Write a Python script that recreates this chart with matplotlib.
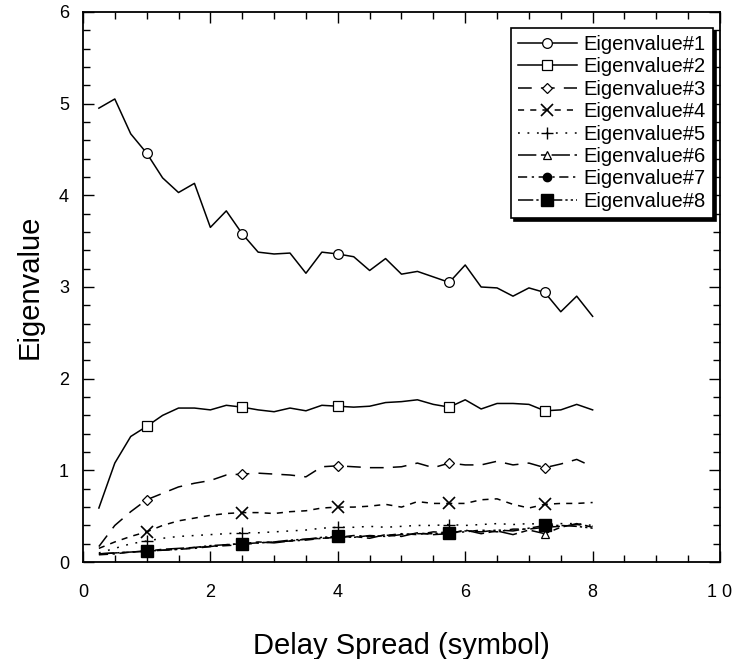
import numpy as np
import matplotlib
matplotlib.use('Agg')
import matplotlib.pyplot as plt
from matplotlib.ticker import MultipleLocator

plt.rcParams['font.family'] = ['Liberation Sans', 'DejaVu Sans']

# delay spread, 0.25 ... 8.0
x = np.arange(1, 33) * 0.25

ev1 = [4.95, 5.05, 4.67, 4.46, 4.19, 4.03, 4.13, 3.65, 3.83, 3.58, 3.38, 3.36,
       3.37, 3.15, 3.38, 3.36, 3.33, 3.18, 3.31, 3.14, 3.17, 3.11, 3.05, 3.24,
       3.00, 2.99, 2.90, 2.99, 2.94, 2.73, 2.90, 2.68]
ev2 = [0.59, 1.08, 1.37, 1.48, 1.60, 1.68, 1.68, 1.66, 1.71, 1.69, 1.66, 1.64,
       1.68, 1.65, 1.71, 1.70, 1.69, 1.70, 1.74, 1.75, 1.77, 1.72, 1.69, 1.77,
       1.67, 1.73, 1.73, 1.72, 1.65, 1.66, 1.72, 1.66]
ev3 = [0.17, 0.40, 0.55, 0.68, 0.75, 0.82, 0.86, 0.89, 0.95, 0.96, 0.97, 0.96,
       0.95, 0.93, 1.04, 1.05, 1.04, 1.03, 1.03, 1.04, 1.08, 1.03, 1.08, 1.06,
       1.06, 1.10, 1.06, 1.08, 1.03, 1.07, 1.12, 1.04]
ev4 = [0.15, 0.22, 0.28, 0.33, 0.40, 0.45, 0.48, 0.51, 0.53, 0.54, 0.54, 0.53,
       0.55, 0.56, 0.59, 0.60, 0.60, 0.61, 0.63, 0.60, 0.66, 0.64, 0.64, 0.64,
       0.68, 0.69, 0.63, 0.59, 0.63, 0.64, 0.64, 0.65]
ev5 = [0.10, 0.15, 0.20, 0.23, 0.26, 0.28, 0.29, 0.30, 0.31, 0.32, 0.32, 0.33,
       0.34, 0.35, 0.37, 0.38, 0.38, 0.39, 0.38, 0.39, 0.40, 0.40, 0.41, 0.40,
       0.41, 0.42, 0.41, 0.42, 0.41, 0.42, 0.42, 0.40]
ev6 = [0.09, 0.10, 0.11, 0.12, 0.14, 0.15, 0.16, 0.17, 0.19, 0.20, 0.22, 0.21,
       0.23, 0.25, 0.26, 0.27, 0.28, 0.26, 0.30, 0.28, 0.32, 0.30, 0.31, 0.35,
       0.31, 0.34, 0.30, 0.35, 0.31, 0.38, 0.42, 0.38]
ev7 = [0.08, 0.09, 0.11, 0.12, 0.13, 0.14, 0.15, 0.17, 0.18, 0.19, 0.21, 0.22,
       0.23, 0.24, 0.26, 0.27, 0.29, 0.28, 0.29, 0.31, 0.30, 0.33, 0.32, 0.33,
       0.35, 0.33, 0.36, 0.36, 0.38, 0.39, 0.41, 0.39]
ev8 = [0.09, 0.10, 0.11, 0.12, 0.13, 0.14, 0.16, 0.18, 0.19, 0.20, 0.21, 0.22,
       0.24, 0.25, 0.27, 0.28, 0.27, 0.29, 0.28, 0.30, 0.31, 0.31, 0.32, 0.34,
       0.33, 0.35, 0.34, 0.37, 0.40, 0.40, 0.39, 0.37]

labels = ['Eigenvalue#%d' % i for i in range(1, 9)]
xticklabels = ['0', '2', '4', '6', '8', '1 0']

marks = [3, 9, 15, 22, 28]

fig = plt.figure(figsize=(7.34, 6.59), dpi=100)
ax = fig.add_axes([0.113, 0.147, 0.868, 0.835])

ax.plot(x, ev1, '-', color='k', lw=1.1, marker='o', ms=7, mfc='white',
        mec='k', mew=0.9, markevery=marks, label=labels[0])
ax.plot(x, ev2, '-', color='k', lw=1.1, marker='s', ms=7.5, mfc='white',
        mec='k', mew=0.9, markevery=marks, label=labels[1])
ax.plot(x, ev3, color='k', lw=1.1, dashes=(9, 6), marker='D', ms=5, mfc='white',
        mec='k', mew=0.9, markevery=marks, label=labels[2])
ax.plot(x, ev4, color='k', lw=1.1, dashes=(4, 4), marker='x', ms=8,
        mec='k', mew=1.2, markevery=marks, label=labels[3])
ax.plot(x, ev5, color='k', lw=1.1, dashes=(1.2, 5), marker='+', ms=9,
        mec='k', mew=1.0, markevery=marks, label=labels[4])
ax.plot(x, ev6, color='k', lw=1.1, dashes=(12, 3, 4, 3), marker='^', ms=6,
        mfc='white', mec='k', mew=0.9, markevery=marks, label=labels[5])
ax.plot(x, ev7, color='k', lw=1.1, dashes=(6, 3, 1.5, 3), marker='o', ms=6,
        mfc='k', mec='k', markevery=marks, label=labels[6])
ax.plot(x, ev8, color='k', lw=1.1, dashes=(10, 2, 1.5, 2, 1.5, 2), marker='s',
        ms=8, mfc='k', mec='k', markevery=marks, label=labels[7])

ax.set_xlim(0, 10)
ax.set_ylim(0, 6)
ax.set_xticks([0, 2, 4, 6, 8, 10])
ax.set_xticklabels(xticklabels)
ax.set_yticks([0, 1, 2, 3, 4, 5, 6])
ax.xaxis.set_minor_locator(MultipleLocator(0.5))
ax.yaxis.set_minor_locator(MultipleLocator(0.2))
ax.tick_params(which='both', direction='in', top=True, right=True,
               width=1.0, labelsize=13)
ax.tick_params(which='major', length=8)
ax.tick_params(which='minor', length=5)
ax.tick_params(axis='x', which='major', pad=16)
ax.tick_params(axis='y', which='major', pad=10)
for s in ax.spines.values():
    s.set_linewidth(1.3)

ax.set_xlabel('Delay Spread (symbol)', fontsize=21, labelpad=22)
ax.set_ylabel('Eigenvalue', fontsize=21, labelpad=11)

leg = ax.legend(loc='upper right', bbox_to_anchor=(0.989, 0.971),
                borderaxespad=0, fontsize=14.5, handlelength=2.9,
                handletextpad=0.35, labelspacing=0.17, borderpad=0.35,
                fancybox=False, framealpha=1, edgecolor='k',
                shadow={'color': 'k', 'alpha': 1})
leg.get_frame().set_linewidth(1.2)

plt.savefig('out.png', dpi=100)
